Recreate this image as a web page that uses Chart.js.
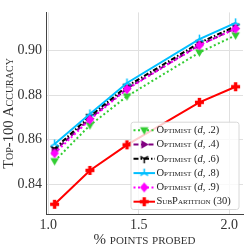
<!DOCTYPE html>
<html>
<head>
<meta charset="utf-8">
<script src="https://cdn.jsdelivr.net/npm/chart.js@4.4.1/dist/chart.umd.min.js"></script>
<style>
  html, body { margin: 0; padding: 0; background: #fff; }
  canvas { display: block; }
</style>
</head>
<body>
<canvas id="chart" width="249" height="249"></canvas>
<script>
// values
const pointsProbed = [1.035, 1.23, 1.435, 1.835, 2.035];
const optimist2 = [0.8504, 0.8665, 0.8795, 0.8992, 0.9069];
const optimist4 = [0.8550, 0.8695, 0.8830, 0.9025, 0.9100];
const optimist6 = [0.8560, 0.8705, 0.8840, 0.9035, 0.9110];
const optimist8 = [0.8581, 0.8716, 0.8855, 0.9052, 0.9125];
const optimist9 = [0.8539, 0.8690, 0.8827, 0.9024, 0.9099];
const subPartition30 = [0.8310, 0.8462, 0.8577, 0.8768, 0.8838];

const seriesNames = ["Optimist", "Optimist", "Optimist", "Optimist", "Optimist", "SubPartition"];
const seriesParams = ["(d, .2)", "(d, .4)", "(d, .6)", "(d, .8)", "(d, .9)", "(30)"];
const xTicks = [1.0, 1.5, 2.0];
const yTicks = [0.84, 0.86, 0.88, 0.90];

const SERIF = '"Liberation Serif", "DejaVu Serif", serif';

// matplotlib-ish marker glyphs as small canvases
function marker(kind, color, r) {
  const s = Math.ceil(2 * r + 4);
  const c = document.createElement("canvas");
  c.width = s; c.height = s;
  const g = c.getContext("2d");
  g.translate(s / 2, s / 2);
  g.fillStyle = color;
  g.strokeStyle = color;
  g.lineWidth = 1.5;
  g.beginPath();
  if (kind === "v") {
    g.moveTo(0, r); g.lineTo(-r * 0.95, -r * 0.65); g.lineTo(r * 0.95, -r * 0.65);
    g.closePath(); g.fill();
  } else if (kind === ">") {
    g.moveTo(r, 0); g.lineTo(-r * 0.65, -r * 0.95); g.lineTo(-r * 0.65, r * 0.95);
    g.closePath(); g.fill();
  } else if (kind === "D") {
    g.moveTo(0, -r); g.lineTo(r * 0.85, 0); g.lineTo(0, r); g.lineTo(-r * 0.85, 0);
    g.closePath(); g.fill();
  } else if (kind === "1") {
    g.moveTo(0, 0); g.lineTo(0, r);
    g.moveTo(0, 0); g.lineTo(-r * 0.87, -r * 0.5);
    g.moveTo(0, 0); g.lineTo(r * 0.87, -r * 0.5);
    g.stroke();
  } else if (kind === "2") {
    g.moveTo(0, 0); g.lineTo(0, -r);
    g.moveTo(0, 0); g.lineTo(-r * 0.87, r * 0.5);
    g.moveTo(0, 0); g.lineTo(r * 0.87, r * 0.5);
    g.stroke();
  } else if (kind === "P") {
    const t = r * 0.38;
    g.fillRect(-r, -t, 2 * r, 2 * t);
    g.fillRect(-t, -r, 2 * t, 2 * r);
  }
  return c;
}

const styles = [
  { color: "#32cd32", dash: [2, 2.5], mk: "v", r: 4.5 },
  { color: "#800080", dash: [5, 2.5], mk: ">", r: 4.5 },
  { color: "#000000", dash: [5, 2, 1.5, 2], mk: "1", r: 4.5 },
  { color: "#00bfff", dash: [], mk: "2", r: 4.5 },
  { color: "#ff00ff", dash: [2, 2.5], mk: "D", r: 5 },
  { color: "#ff0000", dash: [], mk: "P", r: 4.5 },
];
const seriesValues = [optimist2, optimist4, optimist6, optimist8, optimist9, subPartition30];

const datasets = seriesValues.map((vals, i) => {
  const st = styles[i];
  st.img = marker(st.mk, st.color, st.r);
  return {
    label: seriesNames[i] + " " + seriesParams[i],
    data: pointsProbed.map((x, j) => ({ x, y: vals[j] })),
    borderColor: st.color,
    backgroundColor: st.color,
    borderWidth: 2,
    borderDash: st.dash,
    pointStyle: st.img,
    pointRadius: 3,
    order: seriesValues.length - i, // later series on top, like matplotlib
  };
});

// boxed legend in the lower right corner of the plot
const boxLegend = {
  id: "boxLegend",
  afterDraw(chart) {
    const ctx = chart.ctx;
    const area = chart.chartArea;
    const right = area.right - 4, bottom = area.bottom - 5;
    const w = 108, rowH = 14.3, h = rowH * seriesNames.length + 1.5;
    const left = right - w, top = bottom - h;
    const fs = 10.5;
    ctx.save();
    ctx.beginPath();
    ctx.roundRect(left, top, w, h, 2.5);
    ctx.fillStyle = "rgba(255,255,255,0.8)";
    ctx.fill();
    ctx.strokeStyle = "#d8d8d8";
    ctx.lineWidth = 1;
    ctx.stroke();
    seriesNames.forEach((name, i) => {
      const st = styles[i];
      const y = top + 8 + i * rowH;
      const x0 = left + 2.5, x1 = x0 + 21.5;
      ctx.beginPath();
      ctx.setLineDash(st.dash);
      ctx.strokeStyle = st.color;
      ctx.lineWidth = 2;
      ctx.moveTo(x0, y); ctx.lineTo(x1, y); ctx.stroke();
      ctx.setLineDash([]);
      ctx.drawImage(st.img, (x0 + x1) / 2 - st.img.width / 2, y - st.img.height / 2);
      ctx.fillStyle = "#222";
      ctx.textBaseline = "middle";
      let tx = x1 + 1.5;
      ctx.font = "small-caps " + fs + "px " + SERIF;
      ctx.fillText(name + " ", tx, y);
      tx += ctx.measureText(name + " ").width;
      const p = seriesParams[i];
      const k = p.indexOf("d");
      ctx.font = fs + "px " + SERIF;
      if (k < 0) {
        ctx.fillText(p, tx, y);
      } else {
        const a = p.slice(0, k), b = p.slice(k + 1);
        ctx.fillText(a, tx, y); tx += ctx.measureText(a).width;
        ctx.font = "italic " + fs + "px " + SERIF;
        ctx.fillText("d", tx, y); tx += ctx.measureText("d").width;
        ctx.font = fs + "px " + SERIF;
        ctx.fillText(b, tx, y);
      }
    });
    ctx.restore();
  },
};

new Chart(document.getElementById("chart"), {
  type: "line",
  data: { datasets },
  plugins: [boxLegend],
  options: {
    responsive: false,
    animation: false,
    layout: { padding: { top: 0, right: 3, bottom: 0, left: 0 } },
    plugins: { legend: { display: false }, tooltip: { enabled: false } },
    scales: {
      x: {
        type: "linear",
        min: 0.9875,
        max: 2.076,
        afterBuildTicks: (s) => { s.ticks = xTicks.map((v) => ({ value: v })); },
        afterFit: (s) => { s.height = 34.5; },
        grid: { color: "#e0e0e0", lineWidth: 1, drawTicks: false },
        border: { color: "#444", width: 1 },
        ticks: {
          color: "#333",
          padding: 2,
          font: { family: SERIF, size: 14 },
          callback: (v) => v.toFixed(1),
        },
        title: {
          display: true,
          text: "% points probed",
          color: "#333",
          padding: { top: 0, bottom: 0 },
          font: { family: SERIF, size: 15, weight: "small-caps" },
        },
      },
      y: {
        type: "linear",
        min: 0.8264,
        max: 0.9172,
        afterBuildTicks: (s) => { s.ticks = yTicks.map((v) => ({ value: v })); },
        afterFit: (s) => { s.width = 46; },
        grid: { color: "#e0e0e0", lineWidth: 1, drawTicks: false },
        border: { color: "#444", width: 1 },
        ticks: {
          color: "#333",
          padding: 4,
          font: { family: SERIF, size: 14 },
          callback: (v) => v.toFixed(2),
        },
        title: {
          display: true,
          text: "Top-100 Accuracy",
          color: "#333",
          padding: { top: 0, bottom: 0 },
          font: { family: SERIF, size: 14.5, weight: "small-caps" },
        },
      },
    },
  },
});
</script>
</body>
</html>
